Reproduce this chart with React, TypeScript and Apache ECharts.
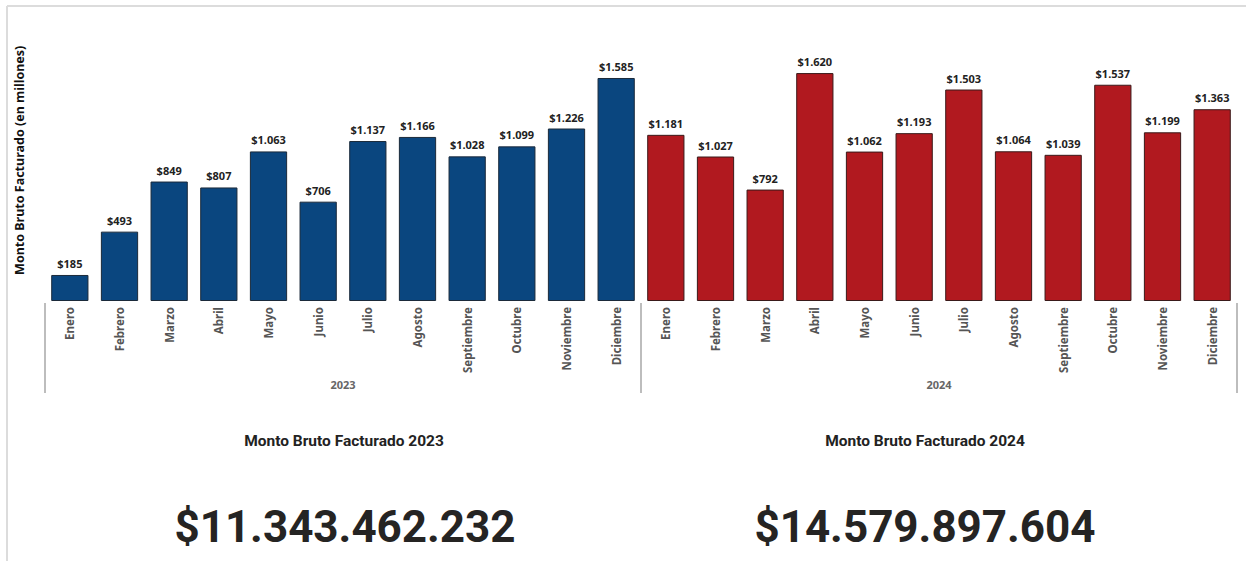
import React, { useEffect, useRef } from "react";
import * as echarts from "echarts";

const months = ["Enero","Febrero","Marzo","Abril","Mayo","Junio","Julio","Agosto","Septiembre","Octubre","Noviembre","Diciembre"];
const years = ["2023", "2024"];
const values2023 = [185, 493, 849, 807, 1063, 706, 1137, 1166, 1028, 1099, 1226, 1585];
const values2024 = [1181, 1027, 792, 1620, 1062, 1193, 1503, 1064, 1039, 1537, 1199, 1363];
const total2023 = "$11.343.462.232";
const total2024 = "$14.579.897.604";
const yAxisTitle = "Monto Bruto Facturado (en millones)";
const cardTitle2023 = "Monto Bruto Facturado 2023";
const cardTitle2024 = "Monto Bruto Facturado 2024";

const fmt = (v: number) => "$" + String(v).replace(/\B(?=(\d{3})+(?!\d))/g, ".");

export default function App() {
  const ref = useRef<HTMLDivElement>(null);
  useEffect(() => {
    if (!ref.current) return;
    const chart = echarts.init(ref.current, null, { renderer: "svg" });
    const cats = [...months, ...months];
    const blank = months.map(() => "-");
    const s2023 = [...values2023, ...blank];
    const s2024 = [...blank, ...values2024];
    const labelStyle = {
      show: true,
      position: "top",
      distance: 6,
      fontFamily: "Noto Sans",
      fontWeight: "bold",
      fontSize: 11,
      color: "#222",
      formatter: (p: any) => fmt(p.value),
    };
    chart.setOption({
      animation: false,
      backgroundColor: "#fff",
      grid: { left: 45, right: 9, top: 19.6, bottom: 260, containLabel: false },
      xAxis: [
        {
          type: "category",
          data: cats,
          axisLine: { show: false },
          axisTick: { show: false },
          axisLabel: {
            interval: 0,
            rotate: 90,
            margin: 6,
            fontFamily: "Noto Sans",
            fontWeight: "bold",
            fontSize: 11.5,
            color: "#555",
          },
        },
        {
          type: "category",
          data: years,
          position: "bottom",
          offset: 92,
          axisLine: { show: false },
          axisTick: {
            show: true,
            inside: true,
            length: 90,
            lineStyle: { color: "#bdbdbd", width: 2 },
          },
          axisLabel: {
            inside: true,
            margin: 3,
            fontFamily: "Noto Sans",
            fontWeight: "bold",
            fontSize: 11,
            color: "#666",
          },
        },
      ],
      yAxis: {
        type: "value",
        min: 0,
        max: 2000,
        show: true,
        name: yAxisTitle,
        nameLocation: "middle",
        nameGap: 19,
        nameTextStyle: { fontFamily: "Noto Sans", fontWeight: "bold", fontSize: 12.5, color: "#111" },
        axisLine: { show: false },
        axisTick: { show: false },
        axisLabel: { show: false },
        splitLine: { show: false },
      },
      series: [
        {
          type: "bar",
          data: s2023,
          barWidth: "75%",
          barGap: "-100%",
          itemStyle: { color: "#0a467f", borderColor: "#1b2a3a", borderWidth: 1 },
          label: labelStyle,
        },
        {
          type: "bar",
          data: s2024,
          barWidth: "75%",
          barGap: "-100%",
          itemStyle: { color: "#b1191f", borderColor: "#3a1a1a", borderWidth: 1 },
          label: labelStyle,
        },
      ],
      graphic: [
        { type: "line", shape: { x1: 7, y1: 6, x2: 1246, y2: 6 }, style: { stroke: "#dcdcdc", lineWidth: 2 } },
        { type: "line", shape: { x1: 7, y1: 6, x2: 7, y2: 561 }, style: { stroke: "#dcdcdc", lineWidth: 2 } },
        {
          type: "text", x: 344, y: 441,
          style: { text: cardTitle2023, align: "center", verticalAlign: "middle", fontFamily: "Roboto", fontWeight: "bold", fontSize: 15.5, fill: "#222" },
        },
        {
          type: "text", x: 925, y: 441,
          style: { text: cardTitle2024, align: "center", verticalAlign: "middle", fontFamily: "Roboto", fontWeight: "bold", fontSize: 15.5, fill: "#222" },
        },
        {
          type: "text", x: 345, y: 527,
          style: { text: total2023, align: "center", verticalAlign: "middle", fontFamily: "Roboto", fontWeight: "bold", fontSize: 44, fill: "#252423" },
        },
        {
          type: "text", x: 925, y: 527,
          style: { text: total2024, align: "center", verticalAlign: "middle", fontFamily: "Roboto", fontWeight: "bold", fontSize: 44, fill: "#252423" },
        },
      ],
    });
    return () => chart.dispose();
  }, []);
  return (
    <div
      ref={ref}
      style={{ position: "absolute", left: 0, top: 0, width: 1246, height: 561 }}
    />
  );
}
